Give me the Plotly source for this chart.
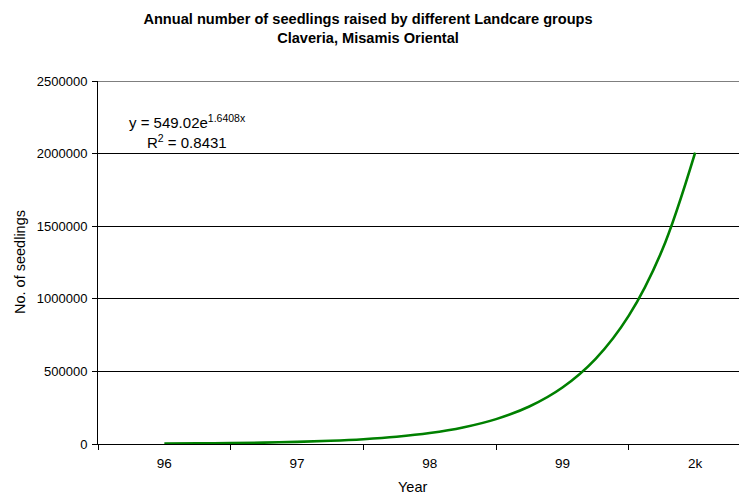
import plotly.graph_objects as go

# Category labels of the x axis
years = ["96", "97", "98", "99", "2k"]
# Positions (in year-index units) where the fitted curve was read
curve_x = [0, 0.25, 0.5, 0.75, 1, 1.25, 1.5, 1.75, 2, 2.25, 2.5, 2.75, 3, 3.25, 3.5, 3.75, 4]
# Number of seedlings
curve_y = [2830, 4270, 6430, 9700, 14610, 22030, 33200, 50030, 75400, 113650,
           171290, 258150, 389090, 586410, 883810, 1332050, 2007000]
y_ticks = [0, 500000, 1000000, 1500000, 2000000, 2500000]

fig = go.Figure()
fig.add_trace(go.Scatter(x=curve_x, y=curve_y, mode="lines", line_shape="spline",
                         line=dict(color="#008000", width=2.6), showlegend=False,
                         hoverinfo="skip"))

font_family = "Liberation Sans, Arial, sans-serif"
OFF = 8  # page body margin of the browser
W, H = 747, 496
L, T = 98 - OFF, 81 - OFF
PH = 363
B = H - T - PH
PW = W - L


def px(xs):
    return (xs - OFF - L) / PW


def py(ys):
    return (T + PH - (ys - OFF)) / PH


fig.update_layout(
    width=W, height=H,
    margin=dict(l=L, r=0, t=T, b=B),
    plot_bgcolor="white", paper_bgcolor="white",
    font=dict(family=font_family, color="black", size=13),
    title=dict(text="<b>Annual number of seedlings raised by different Landcare groups<br>Claveria, Misamis Oriental</b>",
               x=360 / W, xanchor="center", y=1 - 16 / H, yanchor="top",
               font=dict(size=14.6, family=font_family)),
    xaxis=dict(range=[-0.5, -0.5 + PW / 132.7], tickvals=list(range(len(years))),
               ticktext=years, ticks="", showgrid=False, zeroline=False,
               showline=True, linecolor="black", linewidth=1, automargin=False,
               minor=dict(tickvals=[-0.5, 0.5, 1.5, 2.5, 3.5], ticks="outside", ticklen=5,
                          tickcolor="black", showgrid=False),
               ticklabelstandoff=7,
               tickfont=dict(size=13.5)),
    yaxis=dict(range=[0, 2500000], tickvals=y_ticks, ticktext=[str(v) for v in y_ticks],
               ticks="outside", ticklen=5, tickcolor="black",
               showgrid=True, gridcolor="black", gridwidth=1, zeroline=False,
               showline=True, linecolor="black", linewidth=1, automargin=False,
               ticklabelstandoff=2,
               tickfont=dict(size=13)),
)
fig.add_shape(type="line", xref="paper", yref="y", x0=0, x1=1, y0=2500000, y1=2500000,
              line=dict(color="black", width=1))
# axis titles
fig.add_annotation(xref="paper", yref="paper", x=px(412), y=py(487),
                   text="Year", showarrow=False, font=dict(size=14.5),
                   xanchor="center", yanchor="middle")
fig.add_annotation(xref="paper", yref="paper", x=px(20), y=py(262),
                   text="No. of seedlings", showarrow=False, font=dict(size=14.5),
                   textangle=-90, xanchor="center", yanchor="middle")
# trend equation
fig.add_annotation(xref="paper", yref="paper", x=px(187), y=py(121),
                   text="y = 549.02e<sup>1.6408x</sup>", showarrow=False,
                   font=dict(size=15), xanchor="center", yanchor="middle")
fig.add_annotation(xref="paper", yref="paper", x=px(187), y=py(141),
                   text="R<sup>2</sup> = 0.8431", showarrow=False,
                   font=dict(size=15), xanchor="center", yanchor="middle")

fig.write_html("out.html")
